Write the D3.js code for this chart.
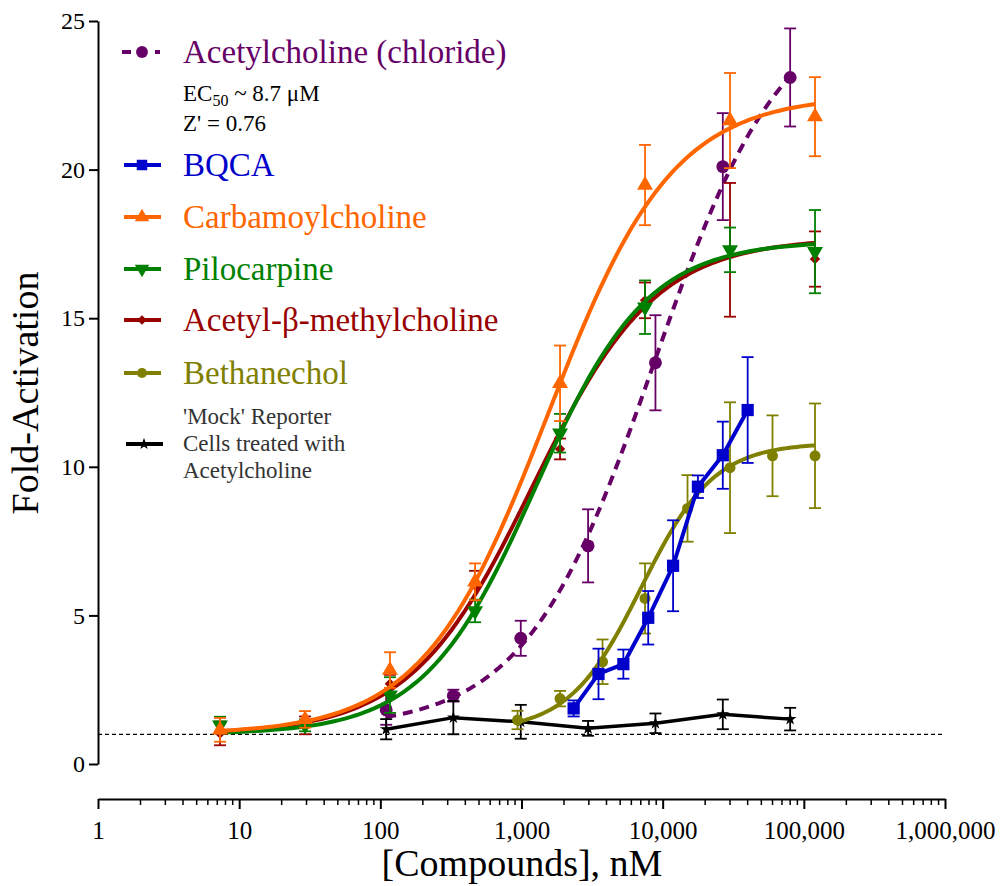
<!DOCTYPE html>
<html>
<head>
<meta charset="utf-8">
<script src="https://cdn.jsdelivr.net/npm/d3@7"></script>
<style>
  body { margin: 0; background: #fff; }
  svg text { font-family: "Liberation Serif", "Times New Roman", serif; }
</style>
</head>
<body>
<div id="chart"></div>
<script>
// concentrations (nM)
const achConc  = [110, 329, 988, 2963, 8889, 26667, 80000];
const bqcaConc = [2341, 3512, 5267, 7901, 11852, 17778, 26667, 40000];
const fourConc = [7.32, 29.3, 117, 469, 1875, 7500, 30000, 120000];
const bethConc = [937.5, 1875, 3750, 7500, 15000, 30000, 60000, 120000];

// fold-activation means and error
const achMean  = [1.82, 2.3, 4.23, 7.34, 13.5, 20.1, 23.1];
const achErr   = [0.5, 0.2, 0.59, 1.23, 1.6, 1.8, 1.65];
const mockMean = [1.17, 1.56, 1.42, 1.2, 1.37, 1.67, 1.51];
const mockErr  = [0.34, 0.56, 0.57, 0.25, 0.33, 0.5, 0.38];
const bqcaMean = [1.87, 3.03, 3.36, 4.92, 6.67, 9.33, 10.39, 11.91];
const bqcaErr  = [0.27, 0.85, 0.49, 0.9, 1.53, 0.38, 1.13, 1.78];
const carbMean = [1.15, 1.5, 3.16, 6.13, 12.81, 19.48, 21.65, 21.78];
const carbErr  = [0.4, 0.28, 0.6, 0.62, 1.27, 1.35, 1.6, 1.33];
const piloMean = [1.31, 1.3, 2.32, 5.15, 11.13, 15.37, 17.3, 17.24];
const piloErr  = [0.28, 0.2, 0.6, 0.38, 0.65, 0.9, 0.75, 1.4];
const mchMean  = [1.03, 1.3, 2.7, 6.0, 10.6, 15.6, 17.3, 16.99];
const mchErr   = [0.4, 0.3, 0.3, 0.5, 0.35, 0.6, 2.25, 0.93];
const bethMean = [1.48, 2.2, 3.44, 5.57, 8.6, 9.97, 10.37, 10.37];
const bethErr  = [0.31, 0.26, 0.75, 1.18, 1.12, 2.2, 1.36, 1.76];

// 4PL fit parameters: [bottom, top, EC50 nM, hill]
const achFit  = [1.2, 25.8, 8700, 0.95];
const carbFit = [1.0, 22.5, 1534, 0.98];
const piloFit = [1.0, 17.6, 1255, 1.1];
const mchFit  = [1.0, 17.7, 1200, 1.0];
const bethFit = [1.1, 10.8, 7072, 1.69];

const xTicks = [1, 10, 100, 1000, 10000, 100000, 1000000];
const yTicks = [0, 5, 10, 15, 20, 25];

const series = [
  { name: "Acetylcholine (chloride)", color: "#660066", conc: achConc, mean: achMean, err: achErr, fit: achFit, dash: "10,7", sym: "circle", size: 130 },
  { name: "'Mock'", color: "#000000", conc: achConc, mean: mockMean, err: mockErr, fit: null, sym: "star", size: 50 },
  { name: "Bethanechol", color: "#808000", conc: bethConc, mean: bethMean, err: bethErr, fit: bethFit, sym: "circle", size: 95 },
  { name: "BQCA", color: "#0000CC", conc: bqcaConc, mean: bqcaMean, err: bqcaErr, fit: null, sym: "square", size: 150 },
  { name: "Acetyl-β-methylcholine", color: "#990000", conc: fourConc, mean: mchMean, err: mchErr, fit: mchFit, sym: "diamond", size: 70 },
  { name: "Pilocarpine", color: "#008000", conc: fourConc, mean: piloMean, err: piloErr, fit: piloFit, sym: "triangledown", size: 110 },
  { name: "Carbamoylcholine", color: "#FF6600", conc: fourConc, mean: carbMean, err: carbErr, fit: carbFit, sym: "triangle", size: 110 }
];

const width = 1000, height = 886;
const svg = d3.select("#chart").append("svg")
  .attr("width", width).attr("height", height);

const x = d3.scaleLog().domain([1, 1000000]).range([98, 945]);
const y = d3.scaleLinear().domain([0, 25]).range([764, 21]);

function symbolFor(name) {
  if (name === "circle") return d3.symbolCircle;
  if (name === "square") return d3.symbolSquare;
  if (name === "diamond") return d3.symbolDiamond2;
  if (name === "star") return d3.symbolStar;
  return d3.symbolTriangle;
}

// baseline at 1-fold
svg.append("line")
  .attr("x1", x(1)).attr("x2", x(1000000))
  .attr("y1", y(1)).attr("y2", y(1))
  .attr("stroke", "#000").attr("stroke-width", 1.3)
  .attr("stroke-dasharray", "4,3");

// y axis
svg.append("g")
  .attr("transform", "translate(98,0)")
  .call(d3.axisLeft(y).tickValues(yTicks).tickSize(9).tickSizeOuter(0).tickPadding(4))
  .call(g => g.selectAll("path, line").attr("stroke-width", 2))
  .call(g => g.selectAll("text").attr("font-size", 24).attr("font-family", "Liberation Serif"));

// x axis, major + minor ticks
const minor = [];
for (let d = 1; d < 1000000; d *= 10) for (let k = 2; k < 10; k++) minor.push(d * k);
svg.append("g")
  .attr("transform", "translate(0,799)")
  .call(d3.axisBottom(x).tickValues(xTicks).tickSize(10).tickSizeOuter(0).tickPadding(12).tickFormat(d3.format(",")))
  .call(g => g.selectAll("path, line").attr("stroke-width", 2))
  .call(g => g.selectAll("text").attr("font-size", 25).attr("font-family", "Liberation Serif"));
svg.append("g").selectAll("line").data(minor).join("line")
  .attr("x1", d => x(d)).attr("x2", d => x(d))
  .attr("y1", 799).attr("y2", 805)
  .attr("stroke", "#000").attr("stroke-width", 1.5);

// axis titles
svg.append("text")
  .attr("transform", "translate(38,393) rotate(-90)")
  .attr("text-anchor", "middle")
  .attr("font-size", 38)
  .text("Fold-Activation");
svg.append("text")
  .attr("x", 522).attr("y", 876)
  .attr("text-anchor", "middle")
  .attr("font-size", 38)
  .text("[Compounds], nM");

const fourPL = (p, c) => p[0] + (p[1] - p[0]) / (1 + Math.pow(p[2] / c, p[3]));

series.forEach(s => {
  const g = svg.append("g");
  const pts = s.conc.map((c, i) => ({ c: c, m: s.mean[i], e: s.err[i] }));

  // error bars
  const eb = g.append("g").attr("stroke", s.color).attr("stroke-width", 1.8);
  pts.forEach(p => {
    eb.append("line").attr("x1", x(p.c)).attr("x2", x(p.c)).attr("y1", y(p.m - p.e)).attr("y2", y(p.m + p.e));
    eb.append("line").attr("x1", x(p.c) - 6).attr("x2", x(p.c) + 6).attr("y1", y(p.m - p.e)).attr("y2", y(p.m - p.e));
    eb.append("line").attr("x1", x(p.c) - 6).attr("x2", x(p.c) + 6).attr("y1", y(p.m + p.e)).attr("y2", y(p.m + p.e));
  });

  // curve or connecting line
  let lineData;
  if (s.fit) {
    const lo = Math.log10(s.conc[0]), hi = Math.log10(s.conc[s.conc.length - 1]);
    lineData = d3.range(0, 101).map(i => {
      const c = Math.pow(10, lo + (hi - lo) * i / 100);
      return [c, fourPL(s.fit, c)];
    });
  } else {
    lineData = pts.map(p => [p.c, p.m]);
  }
  g.append("path")
    .attr("d", d3.line().x(d => x(d[0])).y(d => y(d[1]))(lineData))
    .attr("fill", "none").attr("stroke", s.color)
    .attr("stroke-width", s.sym === "star" ? 3.5 : 4)
    .attr("stroke-dasharray", s.dash || null);

  // markers
  g.selectAll(".m").data(pts).join("path")
    .attr("transform", d => `translate(${x(d.c)},${y(d.m)})` + (s.sym === "triangledown" ? " rotate(180)" : ""))
    .attr("d", d3.symbol().type(symbolFor(s.sym)).size(s.size))
    .attr("fill", s.color);
});

// legend
const legend = [
  { name: "Acetylcholine (chloride)", color: "#660066", sym: "circle", size: 110, y: 52, dash: true },
  { name: "BQCA", color: "#0000CC", sym: "square", size: 110, y: 165 },
  { name: "Carbamoylcholine", color: "#FF6600", sym: "triangle", size: 90, y: 217 },
  { name: "Pilocarpine", color: "#008000", sym: "triangledown", size: 90, y: 269 },
  { name: "Acetyl-β-methylcholine", color: "#990000", sym: "diamond", size: 60, y: 320 },
  { name: "Bethanechol", color: "#808000", sym: "circle", size: 80, y: 373 }
];
const lg = svg.append("g");
legend.forEach(l => {
  if (l.dash) {
    lg.append("line").attr("x1", 122).attr("x2", 131).attr("y1", l.y).attr("y2", l.y)
      .attr("stroke", l.color).attr("stroke-width", 4);
    lg.append("line").attr("x1", 155).attr("x2", 160).attr("y1", l.y).attr("y2", l.y)
      .attr("stroke", l.color).attr("stroke-width", 4);
  } else {
    lg.append("line").attr("x1", 124).attr("x2", 161).attr("y1", l.y).attr("y2", l.y)
      .attr("stroke", l.color).attr("stroke-width", 4);
  }
  lg.append("path")
    .attr("transform", `translate(142,${l.y})` + (l.sym === "triangledown" ? " rotate(180)" : ""))
    .attr("d", d3.symbol().type(symbolFor(l.sym)).size(l.size))
    .attr("fill", l.color);
  lg.append("text").attr("x", 183).attr("y", l.y + 11)
    .attr("font-size", 33).attr("fill", l.color).text(l.name);
});

const ec = lg.append("text").attr("x", 183).attr("y", 101).attr("font-size", 23);
ec.append("tspan").text("EC");
ec.append("tspan").attr("font-size", 16).attr("dy", 5).text("50");
ec.append("tspan").attr("dy", -5).text(" ~ 8.7 μM");
lg.append("text").attr("x", 183).attr("y", 131).attr("font-size", 23).text("Z' = 0.76");

lg.append("line").attr("x1", 126).attr("x2", 163).attr("y1", 444).attr("y2", 444)
  .attr("stroke", "#000").attr("stroke-width", 4);
lg.append("path").attr("transform", "translate(144,444)")
  .attr("d", d3.symbol().type(d3.symbolStar).size(45)).attr("fill", "#000");
["'Mock' Reporter", "Cells treated with", "Acetylcholine"].forEach((t, i) => {
  lg.append("text").attr("x", 183).attr("y", 424 + i * 27).attr("font-size", 23)
    .attr("fill", "#333").text(t);
});
</script>
</body>
</html>
